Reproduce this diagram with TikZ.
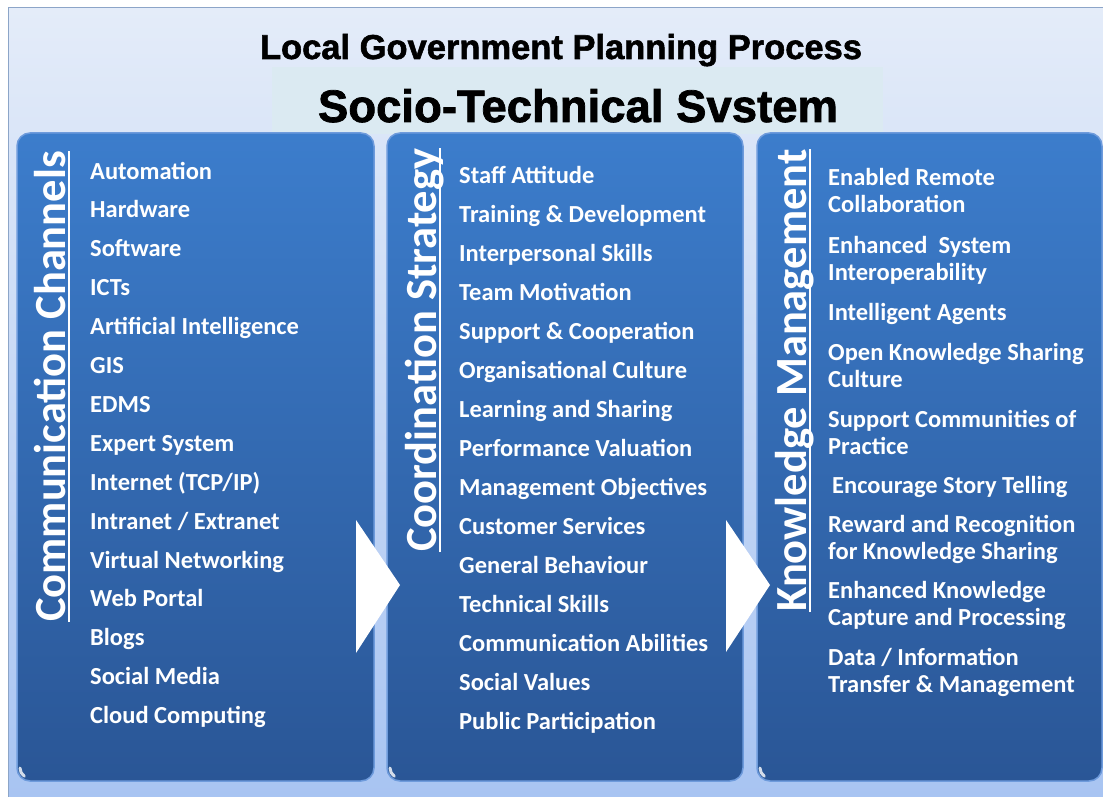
\documentclass[tikz,border=0pt]{standalone}
\usepackage{fontspec}
\setmainfont{Liberation Sans}
\newfontfamily\heavyfont[BoldFeatures={FakeBold=1.6}]{Liberation Sans}
\newfontfamily\carlito{Carlito}
\usetikzlibrary{calc}
\definecolor{bgtop}{RGB}{228,236,249}
\definecolor{bgbot}{RGB}{168,196,242}
\definecolor{frameline}{RGB}{140,165,200}
\definecolor{subbox}{RGB}{219,234,242}
\definecolor{paneltop}{RGB}{60,125,204}
\definecolor{panelbot}{RGB}{42,86,150}
\definecolor{paneledge}{RGB}{110,155,220}
\begin{document}
\begin{tikzpicture}[x=1pt,y=-1pt,
  panel/.style={rounded corners=13pt, top color=paneltop, bottom color=panelbot,
    draw=paneledge, line width=1.5pt, minimum height=648pt, inner sep=0pt},
  item/.style={anchor=base west, text=white, inner sep=0pt,
    font=\carlito\bfseries\fontsize{24.5}{27.5}\selectfont},
  header/.style={anchor=base west, rotate=90, text=white, inner sep=0pt,
    font=\carlito\bfseries\fontsize{44.5}{50}\selectfont},
  hline/.style={white, line width=2.2pt},
  flow/.style={fill=white, draw=none},
  glint/.style={white, line width=3pt, opacity=0.8, line cap=round},
  ttl/.style={anchor=base, inner sep=0pt, font=\heavyfont\bfseries\fontsize{34.5}{38}\selectfont},
  subttl/.style={anchor=base, inner sep=0pt, font=\heavyfont\bfseries\fontsize{45.5}{50}\selectfont}]
\useasboundingbox (0,0) rectangle (1103,797);
% background
\fill[white] (0,0) rectangle (1103,797);
\shade[top color=bgtop, bottom color=bgbot] (8,8) rectangle (1103,797);
\draw[frameline, line width=1pt] (1103,8) -- (8,8) -- (8,797);
% titles
\fill[subbox] (272,67) rectangle (883,134);
\node[ttl] (title) at (561,59) {Local Government Planning Process};
\node[subttl] (sub) at (578,122) {Socio-Technical Svstem};
% panels
\node[panel, minimum width=357pt] (p1) at (195.5,457) {};
\node[panel, minimum width=356pt] (p2) at (565,457) {};
\node[panel, minimum width=345pt] (p3) at (929.5,457) {};
% glints at lower left corners
\draw[glint] (20,768) arc[start angle=180, end angle=125, radius=10];
\draw[glint] (390,768) arc[start angle=180, end angle=125, radius=10];
\draw[glint] (760,768) arc[start angle=180, end angle=125, radius=10];
% flow arrows
\fill[flow] (356,520) -- (400,585) -- (356,653) -- cycle;
\fill[flow] (726,520) -- (770,585) -- (726,652) -- cycle;
% headers
\node[header] (h1) at (65,622) {Communication Channels};
\node[header] (h2) at (436,552) {Coordination Strategy};
\node[header] (h3) at (806,612) {Knowledge Management};
\draw[hline] ($(h1.base west)+(4,0)$) -- ($(h1.base east)+(4,0)$);
\draw[hline] ($(h2.base west)+(4,0)$) -- ($(h2.base east)+(4,0)$);
\draw[hline] ($(h3.base west)+(4,0)$) -- ($(h3.base east)+(4,0)$);
% panel 1 items
\foreach [count=\i] \t in {Automation, Hardware, Software, ICTs,
  Artificial Intelligence, GIS, EDMS, Expert System, Internet (TCP/IP),
  Intranet / Extranet, Virtual Networking, Web Portal, Blogs, Social Media,
  Cloud Computing}
  \node[item] (a\i) at (90,{179+38.9*(\i-1)}) {\t};
% panel 2 items
\foreach [count=\i] \t in {Staff Attitude, Training \& Development,
  Interpersonal Skills, Team Motivation, Support \& Cooperation,
  Organisational Culture, Learning and Sharing, Performance Valuation,
  Management Objectives, Customer Services, General Behaviour,
  Technical Skills, Communication Abilities, Social Values,
  Public Participation}
  \node[item] (b\i) at (459,{183+39.05*(\i-1)}) {\t};
% panel 3 items
\node[item] (k1) at (828,185) {\parbox[t]{270pt}{\raggedright Enabled Remote\\Collaboration}};
\node[item] (k2) at (828,253) {\parbox[t]{270pt}{\raggedright Enhanced\ \ System\\Interoperability}};
\node[item] (k3) at (828,320) {Intelligent Agents};
\node[item] (k4) at (828,360) {\parbox[t]{270pt}{\raggedright Open Knowledge Sharing\\Culture}};
\node[item] (k5) at (828,427) {\parbox[t]{270pt}{\raggedright Support Communities of\\Practice}};
\node[item] (k6) at (832,493) {Encourage Story Telling};
\node[item] (k7) at (828,532) {\parbox[t]{270pt}{\raggedright Reward and Recognition\\for Knowledge Sharing}};
\node[item] (k8) at (828,598) {\parbox[t]{270pt}{\raggedright Enhanced Knowledge\\Capture and Processing}};
\node[item] (k9) at (828,665) {\parbox[t]{270pt}{\raggedright Data / Information\\Transfer \& Management}};
\end{tikzpicture}
\end{document}
